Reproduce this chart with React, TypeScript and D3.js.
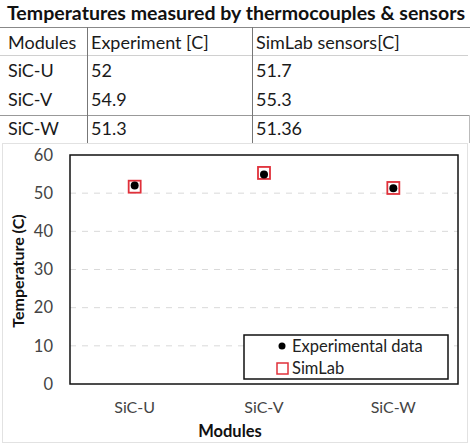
import React from 'react';
import * as d3 from 'd3';

const tableTitle = 'Temperatures measured by thermocouples & sensors';
const tableHeaders = ['Modules', 'Experiment [C]', 'SimLab sensors[C]'];
const modules = ['SiC-U', 'SiC-V', 'SiC-W'];
const experiment = [52, 54.9, 51.3];
const simlab = [51.7, 55.3, 51.36];
const yTicks = [0, 10, 20, 30, 40, 50, 60];
const legendLabels = ['Experimental data', 'SimLab'];

const W = 471;
const H = 445;
const FONT = 'Lato, "Open Sans", sans-serif';

const App: React.FC = () => {
    const margin = { top: 155, right: 13, bottom: 61, left: 70 };
    const innerW = W - margin.left - margin.right;
    const innerH = H - margin.top - margin.bottom;

    const x = d3.scaleBand<string>().domain(modules).range([0, innerW]).padding(0);
    const y = d3.scaleLinear().domain([0, 60]).range([innerH, 0]);
    const cx = (m: string) => (x(m) ?? 0) + x.bandwidth() / 2;

    const colX = [8, 91, 256];
    const rowY = [49, 77, 106, 135];

    return (
        <div style={{ position: 'absolute', left: 0, top: 0 }}>
            <svg width={W} height={H} style={{ display: 'block', background: '#fff' }}>
                {/* table */}
                <text x={7} y={20} fontFamily={FONT} fontWeight="bold" fontSize={18}
                    textLength={458} lengthAdjust="spacingAndGlyphs" fill="#111">{tableTitle}</text>
                <line x1={0} x2={470} y1={27.5} y2={27.5} stroke="#888" />
                <line x1={0} x2={468} y1={55.5} y2={55.5} stroke="#d0d0d0" />
                <line x1={0} x2={469} y1={115.5} y2={115.5} stroke="#999" />
                <line x1={469.5} x2={469.5} y1={115} y2={143} stroke="#bbb" />
                <line x1={87.5} x2={87.5} y1={27} y2={143} stroke="#777" />
                <line x1={252.5} x2={252.5} y1={27} y2={143} stroke="#777" />
                {tableHeaders.map((h, i) => (
                    <text key={h} x={colX[i]} y={rowY[0]} fontFamily={FONT} fontSize={18} fill="#1a1a1a">{h}</text>
                ))}
                {modules.map((m, i) => (
                    <g key={m} fontFamily={FONT} fontSize={18} fill="#1a1a1a">
                        <text x={colX[0]} y={rowY[i + 1]}>{m}</text>
                        <text x={colX[1]} y={rowY[i + 1]}>{String(experiment[i])}</text>
                        <text x={colX[2]} y={rowY[i + 1]}>{String(simlab[i])}</text>
                    </g>
                ))}

                {/* chart frame */}
                <rect x={2.5} y={143.5} width={465} height={299} fill="none" stroke="#e2e2e2" />

                <g transform={`translate(${margin.left},${margin.top})`}>
                    {yTicks.filter(t => t > 0 && t < 60).map(t => (
                        <line key={t} x1={0} x2={innerW} y1={y(t)} y2={y(t)}
                            stroke="#d9d9d9" strokeDasharray="6,6" />
                    ))}
                    {yTicks.map(t => (
                        <text key={t} x={-17} y={y(t)} dy="0.35em" textAnchor="end"
                            fontFamily={FONT} fontSize={16.5} fill="#444">{t}</text>
                    ))}
                    {modules.map(m => (
                        <text key={m} x={cx(m)} y={innerH + 23} dy="0.35em" textAnchor="middle"
                            fontFamily={FONT} fontSize={16} fill="#444">{m}</text>
                    ))}
                    <rect x={0} y={0} width={innerW} height={innerH} fill="none" stroke="#111" strokeWidth={1.5} />

                    {modules.map((m, i) => (
                        <rect key={m} x={cx(m) - 6} y={y(simlab[i]) - 6} width={12} height={12}
                            fill="#fff" stroke="#e0303a" strokeWidth={1.8} />
                    ))}
                    {modules.map((m, i) => (
                        <circle key={m} cx={cx(m)} cy={y(experiment[i])} r={4} fill="#000" />
                    ))}

                    {/* legend */}
                    <g transform={`translate(${244 - margin.left},${335 - margin.top})`}>
                        <rect x={0} y={0} width={204} height={44} fill="#fff" stroke="#111" strokeWidth={1.5} />
                        <circle cx={38} cy={11} r={3.5} fill="#000" />
                        <text x={48} y={11} dy="0.35em" fontFamily={FONT} fontSize={16.5} fill="#222">{legendLabels[0]}</text>
                        <rect x={33} y={28} width={11} height={11} fill="#fff" stroke="#e0303a" strokeWidth={1.5} />
                        <text x={48} y={33} dy="0.35em" fontFamily={FONT} fontSize={16.5} fill="#222">{legendLabels[1]}</text>
                    </g>
                </g>

                <text transform={`translate(18,271) rotate(-90)`} textAnchor="middle"
                    dy="0.35em" fontFamily={FONT} fontWeight="bold" fontSize={16} fill="#111">Temperature (C)</text>
                <text x={230} y={431} dy="0.35em" textAnchor="middle"
                    fontFamily={FONT} fontWeight="bold" fontSize={16.5} fill="#111">Modules</text>
            </svg>
        </div>
    );
};

export default App;
